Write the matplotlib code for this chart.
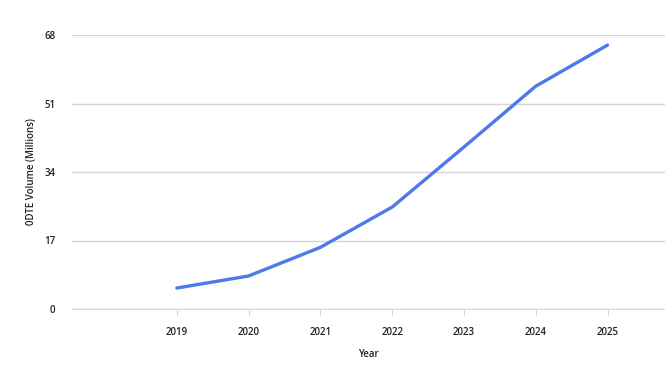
import numpy as np
import matplotlib
matplotlib.use("Agg")
import matplotlib.pyplot as plt

plt.rcParams['font.family'] = ['Open Sans', 'DejaVu Sans']

# data
years = [2019, 2020, 2021, 2022, 2023, 2024, 2025]
volume = [5.2, 8.2, 15.3, 25.3, 40.2, 55.3, 65.5]
y_ticks = [0, 17, 34, 51, 68]

fig = plt.figure(figsize=(6.65, 3.72), dpi=100)
ax = fig.add_axes([72/665, 1 - 309/372, 1 - 72/665, (309 - 35)/372])

ax.plot(years, volume, color='#4E79EA', linewidth=2.4, solid_capstyle='round', zorder=3)

ax.set_xlim(2017.54, 2025.8)
ax.set_ylim(0, 68)
ax.set_yticks(y_ticks)
ax.set_xticks(years)
ax.set_xticklabels([str(y) for y in years])

ax.grid(axis='y', color='#d6d6d6', linewidth=1)
ax.set_axisbelow(True)
for s in ['top', 'right', 'left']:
    ax.spines[s].set_visible(False)
ax.spines['bottom'].set_color('#d6d6d6')
ax.tick_params(axis='y', length=0, pad=12, labelsize=7, labelcolor='#222222')
ax.tick_params(axis='x', length=5, color='#d6d6d6', pad=8, labelsize=7, labelcolor='#222222')
for lbl in ax.get_xticklabels() + ax.get_yticklabels():
    lbl.set_fontweight('semibold')

ax.set_xlabel('Year', fontsize=7, color='#222222', labelpad=8, fontweight='semibold')
ax.set_ylabel('0DTE Volume (Millions)', fontsize=7, color='#222222', fontweight='semibold')
ax.yaxis.set_label_coords(-(72 - 37) / 593, 0.5)

fig.savefig('out.png', dpi=100)
